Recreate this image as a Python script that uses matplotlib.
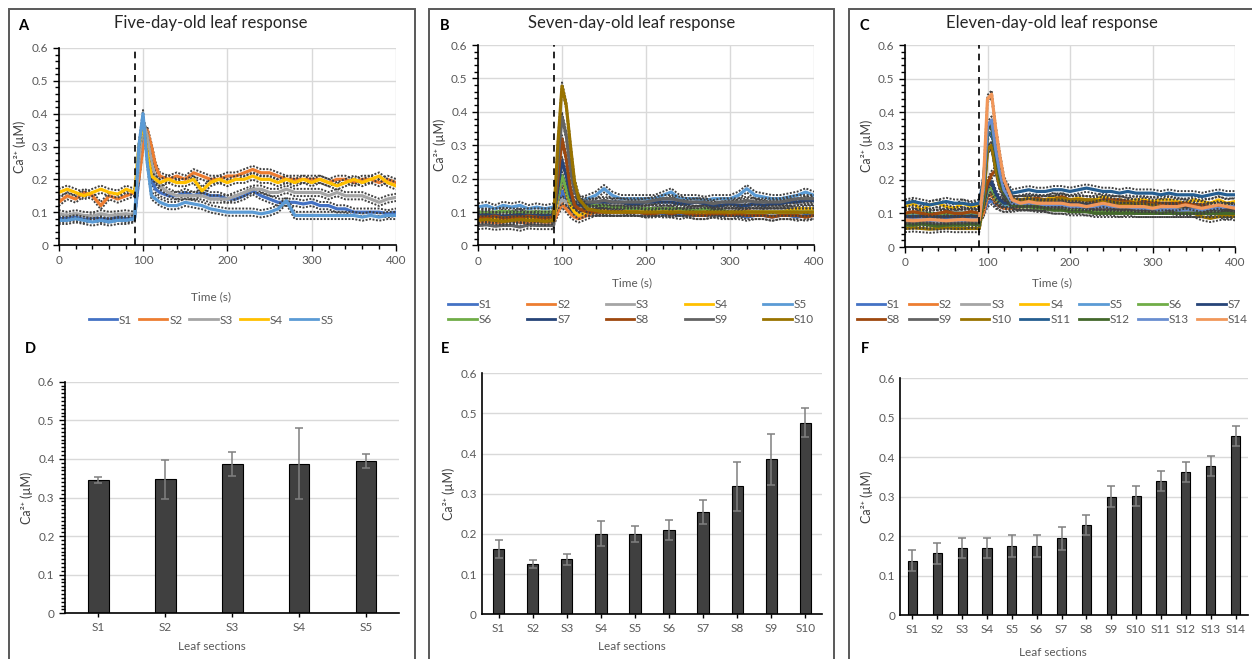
import numpy as np
import matplotlib
matplotlib.use("Agg")
import matplotlib.pyplot as plt
from matplotlib.lines import Line2D
from matplotlib.patches import Rectangle
from matplotlib.ticker import MultipleLocator

plt.rcParams['font.family'] = ['Lato', 'DejaVu Sans']

# ---------------- data ----------------
# time points (s)
T = [0, 10, 20, 30, 40, 50, 60, 70, 80, 90,
     95, 100, 105, 110, 115, 120,
     130, 140, 150, 160, 170, 180, 190, 200, 210, 220,
     230, 240, 250, 260, 270, 280, 290, 300, 310, 320,
     330, 340, 350, 360, 370, 380, 390, 400]

# panel A, five-day-old leaf
a_s1 = [0.08, 0.082, 0.085, 0.078, 0.083, 0.08, 0.079, 0.084, 0.08, 0.083,
        0.2, 0.36, 0.3, 0.2, 0.17, 0.16,
        0.15, 0.15, 0.16, 0.15, 0.16, 0.15, 0.15, 0.14, 0.14, 0.15,
        0.165, 0.15, 0.14, 0.13, 0.13, 0.13, 0.125, 0.13, 0.12, 0.12,
        0.11, 0.11, 0.10, 0.10, 0.10, 0.10, 0.095, 0.10]
a_s2 = [0.13, 0.15, 0.14, 0.16, 0.15, 0.12, 0.15, 0.14, 0.15, 0.16,
        0.2, 0.3, 0.35, 0.3, 0.24, 0.21,
        0.2, 0.21, 0.2, 0.22, 0.21, 0.2, 0.2, 0.21, 0.21, 0.22,
        0.23, 0.22, 0.22, 0.21, 0.2, 0.2, 0.2, 0.2, 0.2, 0.19,
        0.2, 0.2, 0.19, 0.2, 0.2, 0.19, 0.2, 0.19]
a_s3 = [0.095, 0.09, 0.095, 0.09, 0.088, 0.095, 0.09, 0.092, 0.095, 0.09,
        0.25, 0.38, 0.33, 0.25, 0.2, 0.18,
        0.16, 0.15, 0.15, 0.15, 0.15, 0.14, 0.14, 0.14, 0.15, 0.16,
        0.17, 0.17, 0.16, 0.16, 0.17, 0.16, 0.16, 0.16, 0.16, 0.15,
        0.16, 0.15, 0.15, 0.15, 0.14, 0.13, 0.14, 0.145]
a_s4 = [0.16, 0.17, 0.16, 0.15, 0.16, 0.17, 0.16, 0.155, 0.17, 0.16,
        0.3, 0.37, 0.28, 0.21, 0.2, 0.19,
        0.2, 0.19, 0.19, 0.2, 0.165, 0.19, 0.2, 0.19, 0.2, 0.2,
        0.21, 0.2, 0.2, 0.19, 0.2, 0.19, 0.2, 0.19, 0.2, 0.19,
        0.18, 0.19, 0.2, 0.19, 0.2, 0.21, 0.19, 0.18]
a_s5 = [0.075, 0.075, 0.08, 0.075, 0.07, 0.075, 0.07, 0.075, 0.075, 0.08,
        0.3, 0.4, 0.25, 0.15, 0.14, 0.13,
        0.12, 0.12, 0.13, 0.125, 0.12, 0.11, 0.105, 0.1, 0.1, 0.1,
        0.1, 0.095, 0.1, 0.11, 0.135, 0.09, 0.09, 0.09, 0.09, 0.09,
        0.09, 0.09, 0.09, 0.085, 0.09, 0.085, 0.09, 0.09]

# panel B, seven-day-old leaf
b_s1 = [0.08, 0.085, 0.08, 0.078, 0.082, 0.08, 0.085, 0.08, 0.078, 0.08,
        0.12, 0.163, 0.14, 0.11, 0.095, 0.09,
        0.1, 0.1, 0.1, 0.1, 0.1, 0.1, 0.1, 0.095, 0.1, 0.095,
        0.095, 0.09, 0.095, 0.09, 0.09, 0.095, 0.09, 0.09, 0.09, 0.085,
        0.09, 0.09, 0.085, 0.09, 0.09, 0.085, 0.09, 0.09]
b_s2 = [0.07, 0.072, 0.068, 0.07, 0.075, 0.07, 0.068, 0.072, 0.07, 0.07,
        0.1, 0.125, 0.11, 0.095, 0.085, 0.08,
        0.09, 0.1, 0.1, 0.1, 0.1, 0.1, 0.1, 0.1, 0.1, 0.1,
        0.105, 0.1, 0.1, 0.1, 0.1, 0.1, 0.1, 0.1, 0.1, 0.105,
        0.1, 0.1, 0.1, 0.1, 0.1, 0.1, 0.1, 0.1]
b_s3 = [0.1, 0.1, 0.098, 0.1, 0.102, 0.1, 0.1, 0.1, 0.1, 0.1,
        0.12, 0.137, 0.13, 0.12, 0.115, 0.11,
        0.12, 0.12, 0.125, 0.12, 0.12, 0.12, 0.12, 0.12, 0.125, 0.13,
        0.13, 0.135, 0.13, 0.13, 0.13, 0.125, 0.13, 0.13, 0.125, 0.13,
        0.13, 0.125, 0.13, 0.13, 0.13, 0.125, 0.13, 0.13]
b_s4 = [0.08, 0.08, 0.082, 0.078, 0.08, 0.08, 0.082, 0.08, 0.08, 0.08,
        0.14, 0.2, 0.16, 0.12, 0.1, 0.09,
        0.1, 0.1, 0.105, 0.1, 0.1, 0.105, 0.1, 0.1, 0.1, 0.1,
        0.1, 0.1, 0.1, 0.1, 0.1, 0.1, 0.1, 0.1, 0.1, 0.1,
        0.1, 0.1, 0.1, 0.1, 0.105, 0.11, 0.11, 0.11]
b_s5 = [0.115, 0.12, 0.11, 0.12, 0.115, 0.12, 0.11, 0.115, 0.11, 0.115,
        0.15, 0.201, 0.17, 0.14, 0.13, 0.13,
        0.14, 0.15, 0.17, 0.15, 0.14, 0.14, 0.14, 0.14, 0.14, 0.15,
        0.16, 0.14, 0.14, 0.14, 0.135, 0.14, 0.14, 0.14, 0.15, 0.17,
        0.15, 0.145, 0.14, 0.14, 0.145, 0.15, 0.16, 0.15]
b_s6 = [0.1, 0.098, 0.1, 0.102, 0.1, 0.098, 0.1, 0.1, 0.1, 0.1,
        0.15, 0.209, 0.17, 0.13, 0.12, 0.12,
        0.12, 0.12, 0.12, 0.115, 0.115, 0.11, 0.11, 0.11, 0.11, 0.11,
        0.11, 0.11, 0.105, 0.105, 0.11, 0.105, 0.105, 0.1, 0.1, 0.1,
        0.1, 0.1, 0.1, 0.1, 0.1, 0.1, 0.1, 0.1]
b_s7 = [0.09, 0.092, 0.09, 0.088, 0.09, 0.092, 0.09, 0.09, 0.09, 0.09,
        0.17, 0.254, 0.21, 0.15, 0.12, 0.12,
        0.125, 0.13, 0.13, 0.13, 0.13, 0.125, 0.125, 0.13, 0.13, 0.13,
        0.13, 0.125, 0.125, 0.13, 0.125, 0.12, 0.12, 0.125, 0.12, 0.12,
        0.125, 0.12, 0.125, 0.125, 0.13, 0.13, 0.135, 0.135]
b_s8 = [0.085, 0.085, 0.088, 0.082, 0.085, 0.085, 0.088, 0.085, 0.082, 0.085,
        0.2, 0.319, 0.26, 0.17, 0.12, 0.11,
        0.1, 0.1, 0.1, 0.1, 0.1, 0.1, 0.1, 0.095, 0.095, 0.1,
        0.095, 0.1, 0.095, 0.09, 0.09, 0.095, 0.095, 0.09, 0.095, 0.09,
        0.09, 0.09, 0.085, 0.09, 0.09, 0.09, 0.085, 0.09]
b_s9 = [0.06, 0.062, 0.058, 0.06, 0.06, 0.055, 0.062, 0.06, 0.06, 0.06,
        0.25, 0.386, 0.33, 0.23, 0.16, 0.14,
        0.13, 0.13, 0.135, 0.13, 0.13, 0.13, 0.13, 0.13, 0.135, 0.14,
        0.14, 0.135, 0.13, 0.13, 0.13, 0.125, 0.13, 0.13, 0.13, 0.135,
        0.13, 0.13, 0.13, 0.13, 0.135, 0.14, 0.14, 0.14]
b_s10 = [0.075, 0.078, 0.075, 0.072, 0.075, 0.078, 0.075, 0.075, 0.072, 0.075,
         0.3, 0.477, 0.42, 0.3, 0.19, 0.14,
         0.11, 0.105, 0.1, 0.1, 0.1, 0.1, 0.1, 0.1, 0.1, 0.1,
         0.1, 0.1, 0.1, 0.1, 0.1, 0.1, 0.1, 0.1, 0.1, 0.1,
         0.1, 0.1, 0.1, 0.1, 0.1, 0.1, 0.1, 0.1]

# panel C, eleven-day-old leaf
c_s1 = [0.09, 0.092, 0.088, 0.09, 0.09, 0.092, 0.09, 0.088, 0.09, 0.09,
        0.1, 0.13, 0.138, 0.125, 0.12, 0.115,
        0.12, 0.12, 0.125, 0.12, 0.12, 0.12, 0.12, 0.12, 0.12, 0.12,
        0.12, 0.12, 0.115, 0.115, 0.12, 0.115, 0.115, 0.115, 0.11, 0.11,
        0.11, 0.115, 0.11, 0.11, 0.105, 0.11, 0.11, 0.11]
c_s2 = [0.08, 0.082, 0.08, 0.078, 0.08, 0.082, 0.08, 0.08, 0.078, 0.08,
        0.1, 0.15, 0.156, 0.13, 0.12, 0.115,
        0.115, 0.12, 0.12, 0.12, 0.12, 0.12, 0.12, 0.12, 0.115, 0.12,
        0.12, 0.115, 0.115, 0.12, 0.115, 0.115, 0.11, 0.115, 0.11, 0.11,
        0.115, 0.11, 0.11, 0.11, 0.11, 0.105, 0.11, 0.11]
c_s3 = [0.1, 0.1, 0.102, 0.1, 0.098, 0.1, 0.1, 0.102, 0.1, 0.1,
        0.12, 0.16, 0.169, 0.14, 0.13, 0.13,
        0.13, 0.13, 0.13, 0.13, 0.13, 0.13, 0.13, 0.13, 0.125, 0.13,
        0.13, 0.13, 0.125, 0.125, 0.13, 0.125, 0.125, 0.12, 0.12, 0.12,
        0.12, 0.12, 0.12, 0.115, 0.12, 0.12, 0.115, 0.12]
c_s4 = [0.12, 0.13, 0.11, 0.125, 0.13, 0.12, 0.115, 0.13, 0.12, 0.125,
        0.13, 0.16, 0.169, 0.14, 0.13, 0.13,
        0.14, 0.14, 0.145, 0.14, 0.14, 0.15, 0.14, 0.14, 0.145, 0.14,
        0.14, 0.15, 0.14, 0.14, 0.135, 0.14, 0.14, 0.135, 0.14, 0.14,
        0.135, 0.13, 0.14, 0.135, 0.13, 0.14, 0.13, 0.135]
c_s5 = [0.1, 0.1, 0.1, 0.098, 0.1, 0.1, 0.102, 0.1, 0.1, 0.1,
        0.12, 0.165, 0.175, 0.15, 0.13, 0.125,
        0.12, 0.125, 0.12, 0.12, 0.12, 0.12, 0.12, 0.12, 0.12, 0.115,
        0.12, 0.12, 0.115, 0.115, 0.115, 0.11, 0.115, 0.11, 0.11, 0.11,
        0.11, 0.11, 0.11, 0.11, 0.11, 0.11, 0.11, 0.11]
c_s6 = [0.1, 0.102, 0.1, 0.1, 0.098, 0.1, 0.1, 0.1, 0.102, 0.1,
        0.12, 0.17, 0.175, 0.15, 0.135, 0.13,
        0.125, 0.12, 0.12, 0.115, 0.115, 0.11, 0.11, 0.11, 0.11, 0.105,
        0.105, 0.105, 0.105, 0.1, 0.105, 0.1, 0.1, 0.1, 0.1, 0.1,
        0.1, 0.1, 0.1, 0.1, 0.1, 0.1, 0.09, 0.1]
c_s7 = [0.09, 0.09, 0.092, 0.09, 0.09, 0.088, 0.09, 0.09, 0.092, 0.09,
        0.12, 0.185, 0.194, 0.16, 0.14, 0.13,
        0.13, 0.13, 0.13, 0.13, 0.13, 0.13, 0.125, 0.13, 0.13, 0.125,
        0.125, 0.125, 0.12, 0.125, 0.12, 0.12, 0.12, 0.12, 0.12, 0.12,
        0.115, 0.12, 0.115, 0.115, 0.12, 0.115, 0.115, 0.115]
c_s8 = [0.1, 0.105, 0.1, 0.095, 0.1, 0.105, 0.1, 0.1, 0.105, 0.1,
        0.14, 0.19, 0.215, 0.228, 0.18, 0.15,
        0.14, 0.14, 0.14, 0.145, 0.14, 0.14, 0.15, 0.14, 0.14, 0.14,
        0.135, 0.14, 0.14, 0.14, 0.135, 0.13, 0.135, 0.13, 0.13, 0.13,
        0.13, 0.13, 0.125, 0.125, 0.12, 0.12, 0.12, 0.12]
c_s9 = [0.07, 0.07, 0.072, 0.07, 0.068, 0.07, 0.07, 0.07, 0.072, 0.07,
        0.14, 0.29, 0.3, 0.23, 0.18, 0.15,
        0.13, 0.13, 0.13, 0.125, 0.125, 0.12, 0.12, 0.12, 0.12, 0.12,
        0.12, 0.12, 0.115, 0.115, 0.115, 0.11, 0.11, 0.11, 0.11, 0.11,
        0.105, 0.105, 0.1, 0.1, 0.1, 0.1, 0.1, 0.1]
c_s10 = [0.055, 0.057, 0.055, 0.053, 0.055, 0.057, 0.055, 0.055, 0.055, 0.055,
         0.13, 0.29, 0.302, 0.23, 0.18, 0.16,
         0.14, 0.14, 0.14, 0.14, 0.14, 0.14, 0.145, 0.14, 0.14, 0.14,
         0.14, 0.135, 0.135, 0.13, 0.13, 0.13, 0.125, 0.125, 0.12, 0.12,
         0.115, 0.11, 0.1, 0.09, 0.085, 0.09, 0.095, 0.09]
c_s11 = [0.13, 0.135, 0.13, 0.125, 0.13, 0.135, 0.13, 0.13, 0.125, 0.13,
         0.2, 0.33, 0.34, 0.28, 0.22, 0.19,
         0.16, 0.165, 0.17, 0.165, 0.165, 0.17, 0.17, 0.165, 0.17, 0.175,
         0.17, 0.165, 0.165, 0.16, 0.165, 0.16, 0.16, 0.16, 0.155, 0.16,
         0.155, 0.155, 0.155, 0.15, 0.155, 0.16, 0.155, 0.155]
c_s12 = [0.065, 0.065, 0.068, 0.065, 0.062, 0.065, 0.065, 0.065, 0.068, 0.065,
         0.15, 0.35, 0.363, 0.28, 0.2, 0.16,
         0.125, 0.12, 0.12, 0.12, 0.115, 0.11, 0.11, 0.105, 0.105, 0.105,
         0.1, 0.1, 0.1, 0.1, 0.1, 0.1, 0.1, 0.1, 0.1, 0.1,
         0.1, 0.1, 0.1, 0.1, 0.1, 0.1, 0.1, 0.1]
c_s13 = [0.08, 0.08, 0.082, 0.08, 0.078, 0.08, 0.08, 0.08, 0.082, 0.08,
         0.17, 0.36, 0.377, 0.29, 0.22, 0.17,
         0.13, 0.13, 0.13, 0.13, 0.125, 0.125, 0.125, 0.12, 0.12, 0.12,
         0.12, 0.12, 0.12, 0.12, 0.12, 0.115, 0.115, 0.115, 0.11, 0.115,
         0.11, 0.11, 0.11, 0.11, 0.115, 0.115, 0.12, 0.12]
c_s14 = [0.08, 0.078, 0.08, 0.082, 0.08, 0.078, 0.08, 0.082, 0.08, 0.08,
         0.19, 0.44, 0.454, 0.35, 0.27, 0.2,
         0.14, 0.13, 0.135, 0.13, 0.13, 0.13, 0.13, 0.125, 0.125, 0.12,
         0.125, 0.13, 0.125, 0.12, 0.12, 0.12, 0.12, 0.115, 0.12, 0.12,
         0.12, 0.125, 0.12, 0.115, 0.12, 0.125, 0.12, 0.115]

# peak means and SD (bar panels)
d_labels = ['S1', 'S2', 'S3', 'S4', 'S5']
d_mean = [0.345, 0.347, 0.387, 0.387, 0.395]
d_err = [0.008, 0.050, 0.031, 0.092, 0.018]

e_labels = ['S1', 'S2', 'S3', 'S4', 'S5', 'S6', 'S7', 'S8', 'S9', 'S10']
e_mean = [0.163, 0.125, 0.137, 0.201, 0.201, 0.209, 0.254, 0.319, 0.386, 0.477]
e_err = [0.023, 0.009, 0.014, 0.031, 0.020, 0.025, 0.030, 0.061, 0.063, 0.036]

f_labels = ['S1', 'S2', 'S3', 'S4', 'S5', 'S6', 'S7',
            'S8', 'S9', 'S10', 'S11', 'S12', 'S13', 'S14']
f_mean = [0.138, 0.156, 0.169, 0.169, 0.175, 0.175, 0.194,
          0.228, 0.300, 0.302, 0.340, 0.363, 0.377, 0.454]
f_err = [0.026, 0.026, 0.025, 0.025, 0.027, 0.027, 0.029,
         0.026, 0.026, 0.026, 0.025, 0.026, 0.025, 0.026]

y_ticks = [0, 0.1, 0.2, 0.3, 0.4, 0.5, 0.6]
y_labels = ['0', '0.1', '0.2', '0.3', '0.4', '0.5', '0.6']

colors = ['#4472C4', '#ED7D31', '#A5A5A5', '#FFC000', '#5B9BD5', '#70AD47', '#264478',
          '#9E480E', '#636363', '#997300', '#255E91', '#43682B', '#698ED0', '#F1975A']

# ---------------- figure ----------------
W, H = 1252, 659
fig = plt.figure(figsize=(W / 100, H / 100), dpi=100)
TXT = '#595959'


def px_axes(l, t, r, b):
    return fig.add_axes([l / W, 1 - b / H, (r - l) / W, (b - t) / H])


def ftext(x, y, s, **kw):
    fig.text(x / W, 1 - y / H, s, **kw)


# panel frames
for l, r in [(9, 415), (429, 834), (849, 1262)]:
    fig.add_artist(Rectangle((l / W, -0.1), (r - l) / W, 1.1 - 8.5 / H,
                             transform=fig.transFigure, fill=False,
                             ec='#595959', lw=1.4))


def style_common(ax):
    ax.set_ylim(0, 0.6)
    ax.set_yticks(y_ticks)
    ax.set_yticklabels(y_labels)
    for s in ['top', 'right']:
        ax.spines[s].set_visible(False)
    for s in ['left', 'bottom']:
        ax.spines[s].set_color('black')
        ax.spines[s].set_linewidth(1.2)
    ax.tick_params(labelsize=8.5, labelcolor=TXT, color='black', direction='out', length=4, width=1)
    ax.tick_params(which='minor', color='black', direction='out', length=3, width=1)
    ax.set_axisbelow(True)
    ax.set_ylabel('Ca²⁺ (µM)', fontsize=9, color='#404040', labelpad=4)


def time_panel(box, series, title_x, title, letter, letter_x, xlab_y, leg_x, leg_y, ncol, colsp):
    ax = px_axes(*box)
    for i, y in enumerate(series):
        y = np.array(y)
        ax.plot(T, y + 0.011, color='#404040', lw=1.4, ls=(0, (1, 0.8)))
        ax.plot(T, y - 0.011, color='#404040', lw=1.4, ls=(0, (1, 0.8)))
        ax.plot(T, y, color=colors[i], lw=2.3)
    ax.axvline(90, color='black', lw=1.2, ls=(0, (4, 3)))
    ax.set_xlim(0, 400)
    ax.xaxis.set_major_locator(MultipleLocator(100))
    ax.xaxis.set_minor_locator(MultipleLocator(20))
    ax.yaxis.set_minor_locator(MultipleLocator(0.02))
    ax.grid(True, which='major', color='#d9d9d9', lw=1)
    style_common(ax)
    ftext(title_x, 23, title, fontsize=12, ha='center', va='center', color='#262626')
    ftext(letter_x, 26, letter, fontsize=10.5, fontweight='bold', ha='center', va='center')
    ftext(title_x, xlab_y, 'Time (s)', fontsize=8.5, ha='center', va='center', color=TXT)
    n = len(series)
    nrow = int(np.ceil(n / ncol))
    # matplotlib fills legend column by column; reorder so rows read S1, S2, ...
    order = [r * ncol + c for c in range(ncol) for r in range(nrow) if r * ncol + c < n]
    handles = [Line2D([0], [0], color=colors[i], lw=2) for i in order]
    labels = ['S%d' % (i + 1) for i in order]
    fig.legend(handles, labels, loc='center', bbox_to_anchor=(leg_x / W, 1 - leg_y / H),
               ncol=ncol, frameon=False, fontsize=8.5, handlelength=2.4,
               handletextpad=0.15, columnspacing=colsp, labelspacing=0.3,
               labelcolor=TXT, borderpad=0)
    return ax


def bar_panel(box, labels, means, errs, letter, letter_x, lab_y, title_x, width, minor):
    ax = px_axes(*box)
    x = np.arange(len(labels))
    ax.bar(x, means, width=width, color='#404040', edgecolor='black', lw=0.8,
           yerr=errs, ecolor='#808080', capsize=3, error_kw=dict(elinewidth=1.1, capthick=1.1))
    ax.set_xlim(-0.5, len(labels) - 0.5)
    ax.set_xticks(x)
    ax.set_xticklabels(labels)
    ax.grid(True, axis='y', color='#d9d9d9', lw=1)
    style_common(ax)
    if minor:
        ax.yaxis.set_minor_locator(MultipleLocator(0.01))
    else:
        ax.tick_params(axis='y', length=0)
    ax.tick_params(axis='x', length=3)
    ftext(letter_x, 349, letter, fontsize=10.5, fontweight='bold', ha='center', va='center')
    ftext(title_x, lab_y, 'Leaf sections', fontsize=8.5, ha='center', va='center', color=TXT)
    return ax


time_panel((58.7, 48, 396, 245), [a_s1, a_s2, a_s3, a_s4, a_s5],
           211, 'Five-day-old leaf response', 'A', 23, 297, 211, 320, 5, 0.6)
time_panel((478, 45, 814, 245.5), [b_s1, b_s2, b_s3, b_s4, b_s5, b_s6, b_s7, b_s8, b_s9, b_s10],
           632, 'Seven-day-old leaf response', 'B', 445, 283, 631, 312, 5, 3.0)
time_panel((905, 45, 1235, 247),
           [c_s1, c_s2, c_s3, c_s4, c_s5, c_s6, c_s7, c_s8, c_s9, c_s10, c_s11, c_s12, c_s13, c_s14],
           1052, 'Eleven-day-old leaf response', 'C', 864, 283, 1052, 312, 7, 0.75)

ax_d = bar_panel((65, 381.7, 399.3, 613.3), d_labels, d_mean, d_err, 'D', 30, 646, 212, 0.31, True)
ax_e = bar_panel((481.7, 373.3, 822.3, 614.3), e_labels, e_mean, e_err, 'E', 445, 646, 632, 0.33, False)
ax_f = bar_panel((900, 378.3, 1248, 615), f_labels, f_mean, f_err, 'F', 865, 653, 1053, 0.37, False)

fig.savefig('out.png', dpi=100)
